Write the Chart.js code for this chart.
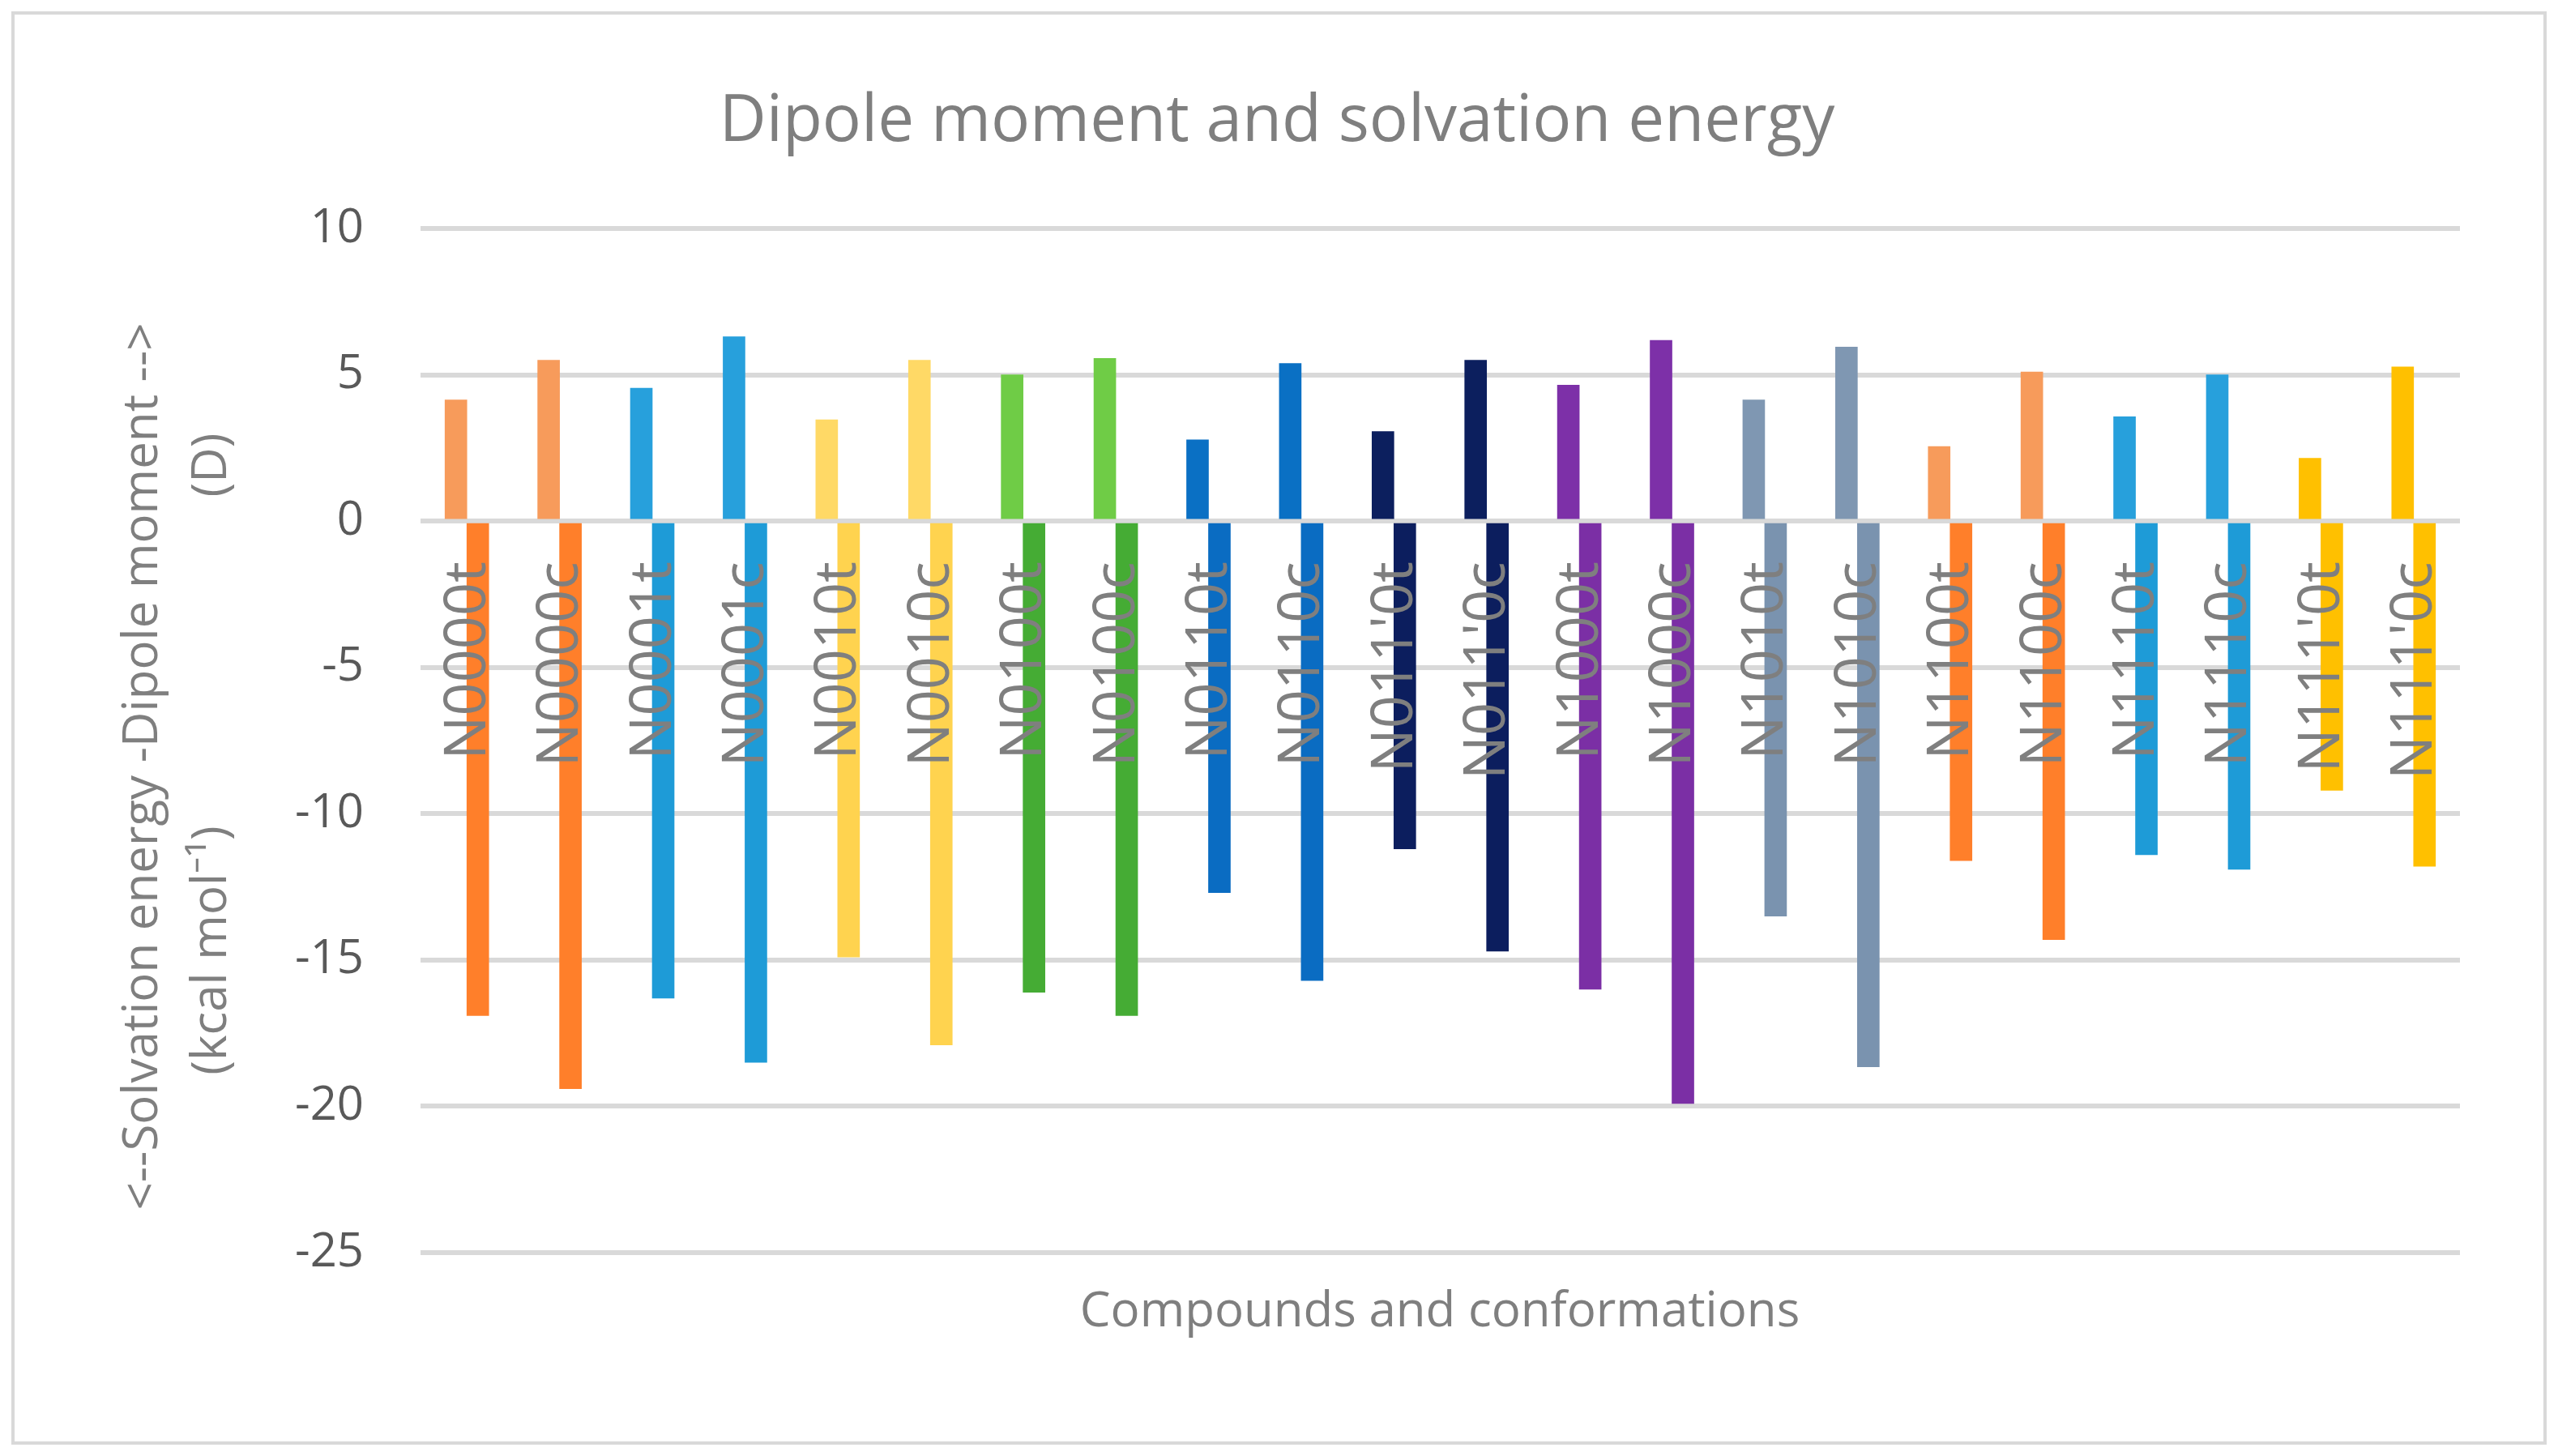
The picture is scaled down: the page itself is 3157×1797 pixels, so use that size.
<!DOCTYPE html>
<html><head><meta charset="utf-8">
<script src="https://cdn.jsdelivr.net/npm/chart.js@4"></script>
<style>html,body{margin:0;padding:0;background:#fff}</style>
</head><body><canvas id="c" width="3157" height="1797" style="width:3157px;height:1797px;display:block"></canvas>
<script>
const categories = ["N0000t","N0000c","N0001t","N0001c","N0010t","N0010c","N0100t","N0100c","N0110t","N0110c","N011'0t","N011'0c","N1000t","N1000c","N1010t","N1010c","N1100t","N1100c","N1110t","N1110c","N111'0t","N111'0c"];
const dipoleMoment = [4.14,5.5,4.54,6.3,3.46,5.5,5.0,5.56,2.78,5.39,3.06,5.5,4.65,6.18,4.14,5.95,2.55,5.1,3.57,5.0,2.15,5.27];
const solvationEnergy = [-16.9,-19.4,-16.3,-18.5,-14.9,-17.9,-16.1,-16.9,-12.7,-15.7,-11.2,-14.7,-16.0,-19.9,-13.5,-18.65,-11.6,-14.3,-11.4,-11.9,-9.2,-11.8];
const yTicks = [10,5,0,-5,-10,-15,-20,-25];
const dipoleColors = ["#F79B5B","#F79B5B","#27A0DC","#27A0DC","#FFD966","#FFD966","#6FCC46","#6FCC46","#0A70C4","#0A70C4","#0C1F5E","#0C1F5E","#7D30A8","#7D30A8","#7F97B2","#7F97B2","#F79B5B","#F79B5B","#27A0DC","#27A0DC","#FFC000","#FFC000"];
const solvColors = ["#FF7F2A","#FF7F2A","#1E9BD7","#1E9BD7","#FFD34F","#FFD34F","#45AC34","#45AC34","#0A6CC2","#0A6CC2","#0C1E5E","#0C1E5E","#7B2FA5","#7B2FA5","#7A93AF","#7A93AF","#FF7F2A","#FF7F2A","#1E9BD7","#1E9BD7","#FFC000","#FFC000"];
const FONT = "'Open Sans', 'Liberation Sans', sans-serif";
const GRAY = "#7F7F7F";
const deco = {
  id:'deco',
  beforeDraw(ch){const c=ch.ctx;c.save();c.fillStyle='#fff';c.fillRect(0,0,ch.width,ch.height);
    c.strokeStyle='#D9D9D9';c.lineWidth=4;c.strokeRect(16,16,ch.width-32,ch.height-32);c.restore();},
  afterDraw(ch){
    const c=ch.ctx, x=ch.scales.x, y=ch.scales.y;
    c.save();c.fillStyle=GRAY;
    c.font="80px "+FONT;c.textAlign='center';c.textBaseline='middle';
    c.fillText("Dipole moment and solvation energy",1576,151);
    c.font="60px "+FONT;
    c.fillText("Compounds and conformations",1777,1620);
    c.save();c.translate(177,946);c.rotate(-Math.PI/2);c.fillText("<--Solvation energy -Dipole moment -->",0,0);c.restore();
    c.save();c.translate(262,574);c.rotate(-Math.PI/2);c.fillText("(D)",0,0);c.restore();
    c.save();c.translate(262,1173);c.rotate(-Math.PI/2);c.fillText("(kcal mol\u207B\u00B9)",0,0);c.restore();
    c.font="72px "+FONT;c.textAlign='right';
    const y0=y.getPixelForValue(0);
    categories.forEach((n,i)=>{c.save();c.translate(x.getPixelForValue(i)+2,y0+50);c.rotate(-Math.PI/2);c.fillText(n,0,0);c.restore();});
    c.restore();
  }
};
new Chart(document.getElementById('c'),{
  type:'bar',
  data:{labels:categories,datasets:[
    {label:'Dipole moment',data:dipoleMoment,backgroundColor:dipoleColors,barThickness:27},
    {label:'Solvation energy',data:solvationEnergy,backgroundColor:solvColors,barThickness:27}]},
  options:{responsive:false,animation:false,devicePixelRatio:1,
    layout:{padding:{left:0,right:121,top:282,bottom:243}},
    plugins:{legend:{display:false},tooltip:{enabled:false}},
    datasets:{bar:{categoryPercentage:0.56,barPercentage:1}},
    scales:{
      x:{ticks:{display:false},grid:{display:false},border:{display:false}},
      y:{min:-25,max:10,afterBuildTicks(s){s.ticks=yTicks.map(v=>({value:v}));},
        afterFit(s){s.width=519;},
        ticks:{color:'#595959',font:{size:58,family:FONT},padding:70},
        grid:{color:'#D9D9D9',lineWidth:6,drawTicks:false},border:{display:false}}
    }}
  ,plugins:[deco]
});
</script>
</body></html>
